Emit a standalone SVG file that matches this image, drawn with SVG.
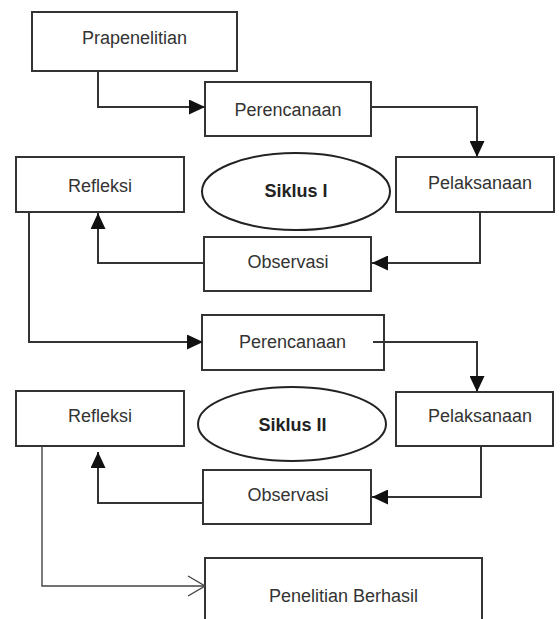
<svg xmlns="http://www.w3.org/2000/svg" width="560" height="619" viewBox="0 0 560 619">
<style>
.box{fill:#fff;stroke:#333;stroke-width:2}
.ell{fill:#fff;stroke:#222;stroke-width:2}
.t{font-family:"Liberation Sans",Arial,sans-serif;font-size:18px;fill:#333;text-anchor:middle}
.b{font-family:"Liberation Sans",Arial,sans-serif;font-size:18px;font-weight:bold;fill:#222;text-anchor:middle}
.c{fill:none;stroke:#333;stroke-width:2}
.c2{fill:none;stroke:#444;stroke-width:1.4}
</style>
<defs>
<marker id="arr" markerUnits="userSpaceOnUse" markerWidth="17" markerHeight="15" refX="16" refY="7.5" orient="auto">
<path d="M0,0 L16,7.5 L0,15 z" fill="#111"/>
</marker>
<marker id="open" markerUnits="userSpaceOnUse" markerWidth="20" markerHeight="24" refX="18" refY="11" orient="auto">
<path d="M1,1 L18,11 L1,21" fill="none" stroke="#444" stroke-width="1.4"/>
</marker>
</defs>
<rect width="560" height="619" fill="#fff"/>
<g id="prapenelitian"><rect class="box" x="32" y="12" width="205" height="59"/><text class="t" x="134.5" y="44">Prapenelitian</text></g>
<g id="perencanaan1"><rect class="box" x="205" y="82" width="166" height="54"/><text class="t" x="288" y="116">Perencanaan</text></g>
<g id="pelaksanaan1"><rect class="box" x="396" y="157" width="158" height="55"/><text class="t" x="480" y="189">Pelaksanaan</text></g>
<g id="refleksi1"><rect class="box" x="16" y="157" width="168" height="55"/><text class="t" x="100" y="192">Refleksi</text></g>
<g id="siklus1"><ellipse class="ell" cx="296" cy="191.5" rx="94" ry="38.5"/><text class="b" x="296" y="197">Siklus I</text></g>
<g id="observasi1"><rect class="box" x="204" y="237" width="167" height="54"/><text class="t" x="288" y="268">Observasi</text></g>
<g id="perencanaan2"><rect class="box" x="202" y="315" width="182" height="55"/><text class="t" x="292.5" y="348">Perencanaan</text></g>
<g id="pelaksanaan2"><rect class="box" x="396" y="392" width="157" height="54"/><text class="t" x="480" y="422">Pelaksanaan</text></g>
<g id="refleksi2"><rect class="box" x="16" y="391" width="168" height="55"/><text class="t" x="100" y="422">Refleksi</text></g>
<g id="siklus2"><ellipse class="ell" cx="292" cy="424" rx="94" ry="37"/><text class="b" x="292.5" y="431">Siklus II</text></g>
<g id="observasi2"><rect class="box" x="203" y="470" width="168" height="54"/><text class="t" x="288" y="501">Observasi</text></g>
<g id="penelitian-berhasil"><rect class="box" x="205" y="558" width="277" height="70"/><text class="t" x="343.5" y="602">Penelitian Berhasil</text></g>
<g id="connectors">
<path class="c" d="M98,72 V107 H205" marker-end="url(#arr)"/>
<path class="c" d="M372,107 H477 V157" marker-end="url(#arr)"/>
<path class="c" d="M480,213 V263 H372" marker-end="url(#arr)"/>
<path class="c" d="M203,263 H98 V213" marker-end="url(#arr)"/>
<path class="c" d="M29,213 V342 H203" marker-end="url(#arr)"/>
<path class="c" d="M373,342 H477 V392" marker-end="url(#arr)"/>
<path class="c" d="M481,447 V497 H372" marker-end="url(#arr)"/>
<path class="c" d="M202,503 H98 V452" marker-end="url(#arr)"/>
<path class="c2" d="M42,447 V586 H205" marker-end="url(#open)"/>
</g>
</svg>
